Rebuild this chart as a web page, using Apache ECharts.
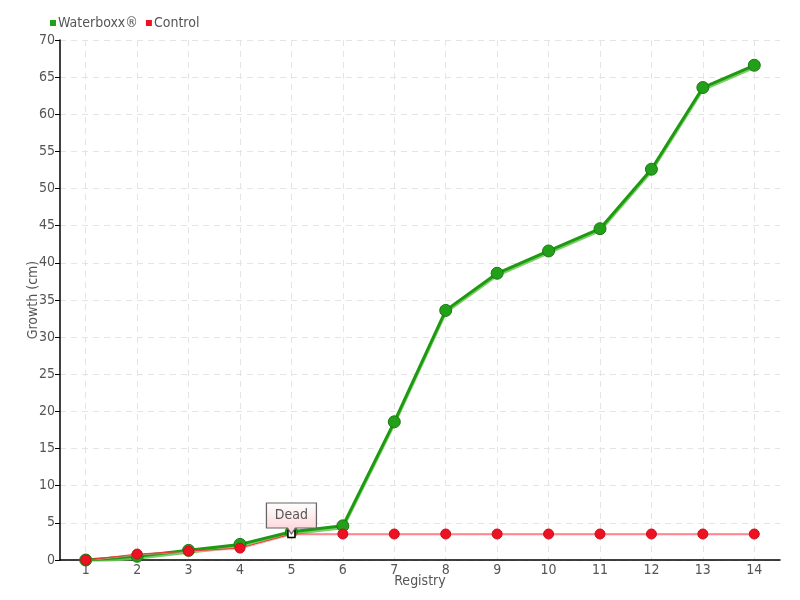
<!DOCTYPE html>
<html><head><meta charset="utf-8">
<script src="https://cdn.jsdelivr.net/npm/echarts@6/dist/echarts.min.js"></script>
<style>html,body{margin:0;padding:0;background:#fff}#c{width:800px;height:600px}</style>
</head><body><div id="c"></div>
<script>
const categories = ['1','2','3','4','5','6','7','8','9','10','11','12','13','14'];
const waterboxx = [0, 0.5, 1.3, 2.1, 3.8, 4.6, 18.6, 33.6, 38.6, 41.6, 44.6, 52.6, 63.6, 66.6];
const control = [0, 0.8, 1.2, 1.6, 3.5, 3.5, 3.5, 3.5, 3.5, 3.5, 3.5, 3.5, 3.5, 3.5];
const deadIndex = 4;
const deadLabel = 'Dead';

const FONT = "'DejaVu Sans Condensed','Liberation Sans Narrow',sans-serif";
const chart = echarts.init(document.getElementById('c'));
chart.setOption({
  animation: false,
  textStyle: {fontFamily: FONT},
  legend: {
    left: 45, top: 11, icon: 'rect', itemWidth: 6, itemHeight: 6, itemGap: 8,
    itemStyle: {borderWidth: 0},
    textStyle: {fontFamily: FONT, fontSize: 14, color: '#555', padding: [0,0,0,-3]},
    data: ['Waterboxx®', 'Control']
  },
  grid: {left: 60, right: 20, top: 40, bottom: 40, containLabel: false},
  xAxis: {
    type: 'category', data: categories, boundaryGap: true,
    name: 'Registry', nameLocation: 'middle', nameGap: 14, nameMoveOverlap: false,
    nameTextStyle: {fontFamily: FONT, fontSize: 14, color: '#555'},
    axisLine: {lineStyle: {color: '#000', width: 1.5}},
    axisTick: {alignWithLabel: true, length: 5, lineStyle: {color: '#000'}},
    axisLabel: {fontFamily: FONT, fontSize: 14, color: '#555', margin: 3},
    splitLine: {show: true, alignWithLabel: true, lineStyle: {color: '#e4e4e4', type: [6, 5]}}
  },
  yAxis: {
    type: 'value', min: 0, max: 70, interval: 5,
    name: 'Growth (cm)', nameLocation: 'middle', nameGap: 20, nameMoveOverlap: false,
    nameTextStyle: {fontFamily: FONT, fontSize: 14, color: '#555'},
    axisLine: {show: true, lineStyle: {color: '#000', width: 1.5}},
    axisTick: {show: true, length: 5, lineStyle: {color: '#000'}},
    axisLabel: {fontFamily: FONT, fontSize: 14, color: '#555', margin: 5},
    splitLine: {show: true, lineStyle: {color: '#e4e4e4', type: [6, 5]}}
  },
  series: [
    {
      name: 'Waterboxx®', type: 'line', data: waterboxx,
      symbol: 'circle', symbolSize: 12,
      lineStyle: {color: '#1e9a10', width: 3, shadowColor: 'rgba(110,200,90,0.9)', shadowOffsetY: 2, shadowBlur: 0},
      itemStyle: {color: '#22a01a', borderColor: '#177a10', borderWidth: 1},
      z: 2
    },
    {
      name: 'Control', type: 'line',
      data: control.map((v, i) => i === deadIndex ? {value: v, symbol: 'rect', symbolSize: 7, itemStyle: {color: '#fff', borderColor: '#000', borderWidth: 1.5}} : v),
      symbol: 'circle', symbolSize: 10,
      lineStyle: {color: '#ff3040', width: 1, shadowColor: 'rgba(255,150,160,0.6)', shadowOffsetY: 1, shadowBlur: 0},
      itemStyle: {color: '#ee1122', borderColor: '#c41020', borderWidth: 1},
      z: 3,
      markPoint: {
        symbol: 'path://M0 0 H50 V25 H29 L25 31 L21 25 H0 Z',
        symbolSize: [50, 31], symbolOffset: [0, '-50%'], symbolKeepAspect: false,
        itemStyle: {
          color: new echarts.graphic.LinearGradient(0, 0, 0, 1, [{offset: 0, color: '#ffffff'}, {offset: 1, color: '#fcd0d4'}]),
          borderColor: '#666', borderWidth: 1
        },
        label: {show: true, formatter: deadLabel, fontFamily: FONT, fontSize: 14, color: '#555', offset: [0, -3]},
        data: [{coord: [deadIndex, control[deadIndex]]}]
      }
    }
  ]
});
</script></body></html>
